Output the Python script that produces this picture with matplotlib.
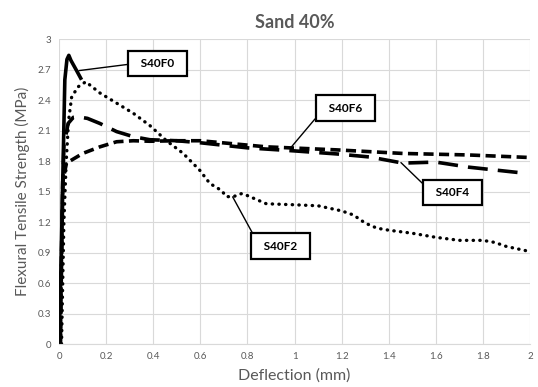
import matplotlib.pyplot as plt

# Flexural tensile strength vs deflection, sand 40% mixes
x_f0 = [0, 0.008, 0.016, 0.024, 0.033, 0.041, 0.05, 0.074, 0.095]
y_f0 = [0, 0.8, 1.7, 2.6, 2.8, 2.84, 2.79, 2.69, 2.6]

x_f2 = [0.01, 0.015, 0.02, 0.03, 0.04, 0.053, 0.08, 0.113, 0.173, 0.244, 0.315,
        0.385, 0.456, 0.527, 0.597, 0.64, 0.69, 0.71, 0.74, 0.775, 0.8, 0.88,
        1.0, 1.1, 1.2, 1.25, 1.3, 1.35, 1.4, 1.5, 1.6, 1.7, 1.8, 1.85, 1.9, 2.0]
y_f2 = [0, 0.6, 1.2, 1.8, 2.2, 2.43, 2.53, 2.58, 2.47, 2.37, 2.27,
        2.15, 2.0, 1.875, 1.71, 1.58, 1.51, 1.45, 1.45, 1.48, 1.46, 1.38,
        1.37, 1.36, 1.31, 1.27, 1.19, 1.14, 1.12, 1.09, 1.05, 1.02, 1.02, 1.0, 0.96, 0.91]

x_f4 = [0.005, 0.01, 0.015, 0.02, 0.038, 0.06, 0.081, 0.12, 0.173, 0.244, 0.315,
        0.385, 0.5, 0.6, 0.8, 1.0, 1.18, 1.32, 1.46, 1.6, 1.74, 1.96]
y_f4 = [0, 0.8, 1.5, 1.95, 2.17, 2.23, 2.235, 2.22, 2.17, 2.09, 2.04,
        2.01, 2.0, 1.98, 1.93, 1.9, 1.87, 1.84, 1.78, 1.79, 1.74, 1.685]

x_f6 = [0.005, 0.01, 0.015, 0.031, 0.1, 0.173, 0.244, 0.315, 0.385, 0.5, 0.6,
        0.88, 1.18, 1.46, 1.74, 2.0]
y_f6 = [0, 0.9, 1.6, 1.78, 1.875, 1.94, 1.99, 2.0, 1.995, 2.0, 2.0,
        1.94, 1.91, 1.875, 1.86, 1.835]

xticks = [0, 0.2, 0.4, 0.6, 0.8, 1, 1.2, 1.4, 1.6, 1.8, 2]
yticks = [0, 0.3, 0.6, 0.9, 1.2, 1.5, 1.8, 2.1, 2.4, 2.7, 3]

plt.rcParams['font.family'] = ['Lato', 'DejaVu Sans']
grey = '#595959'

fig = plt.figure(figsize=(5.38, 3.87), dpi=100)
ax = fig.add_axes([0.110, 0.111, 0.875, 0.788])

ax.plot(x_f0, y_f0, color='black', lw=2.6, solid_capstyle='butt')
ax.plot(x_f2, y_f2, color='black', lw=2.4, linestyle=(0, (0.1, 1.9)),
        dash_capstyle='round')
ax.plot(x_f4, y_f4, color='black', lw=2.6, linestyle=(0, (5.5, 2.8)))
ax.plot(x_f6, y_f6, color='black', lw=2.6, linestyle=(0, (2.8, 1.5)))

ax.set_xlim(0, 2)
ax.set_ylim(0, 3)
ax.set_xticks(xticks)
ax.set_xticklabels([str(t) for t in xticks])
ax.set_yticks(yticks)
ax.set_yticklabels([str(t) for t in yticks])
ax.tick_params(length=0, labelsize=7, colors=grey, pad=6)
ax.grid(color='#d9d9d9', lw=0.8)
ax.set_axisbelow(True)
for s in ['top', 'right', 'left']:
    ax.spines[s].set_visible(False)
ax.spines['bottom'].set_color('#d9d9d9')

ax.set_title('Sand 40%', fontsize=13, fontweight='bold', color=grey, pad=8)
ax.set_xlabel('Deflection (mm)', fontsize=11.5, color=grey, labelpad=5)
ax.set_ylabel('Flexural Tensile Strength (MPa)', fontsize=11, color=grey, labelpad=5)

# labelled call-out boxes with leader lines
labels = [
    ('S40F0', (0.084, 2.69), (0.418, 2.76), (0, 0.5)),
    ('S40F6', (0.987, 1.94), (1.217, 2.32), (0, 0.4)),
    ('S40F4', (1.452, 1.785), (1.672, 1.49), (0, 0.65)),
    ('S40F2', (0.737, 1.448), (0.941, 0.964), (0, 0.72)),
]
for txt, xy, xytext, rp in labels:
    ax.annotate('  ' + txt + '  ', xy=xy, xytext=xytext, ha='center', va='center',
                fontsize=8.5, fontweight='bold', color='black',
                bbox=dict(boxstyle='square,pad=0.62', fc='white', ec='black', lw=1.6),
                arrowprops=dict(arrowstyle='-', color='black', lw=1.0,
                                shrinkA=0, shrinkB=0, relpos=rp))

fig.savefig('out.png', dpi=100)
